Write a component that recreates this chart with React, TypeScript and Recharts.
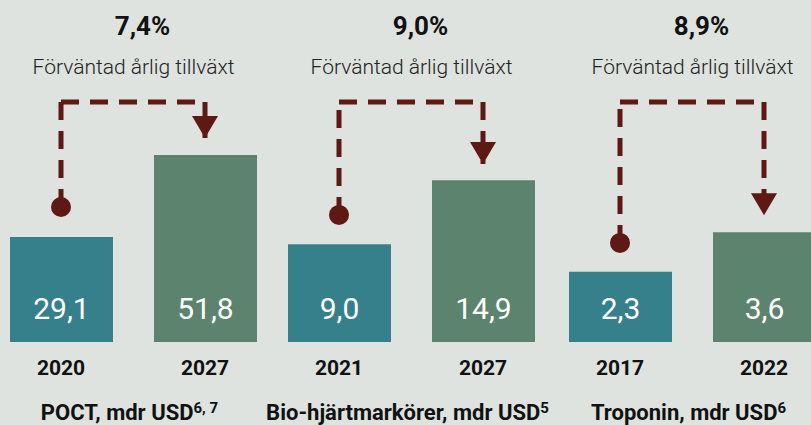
import { BarChart, Bar, XAxis, YAxis, Cell, LabelList, ReferenceLine, ReferenceDot } from "recharts";

// one entry per panel
const growthRates = ["7,4%", "9,0%", "8,9%"];
const panelTitles = ["POCT, mdr USD", "Bio-hjärtmarkörer, mdr USD", "Troponin, mdr USD"];
const footnotes = ["6, 7", "5", "6"];
const startYears = ["2020", "2021", "2017"];
const endYears = ["2027", "2027", "2022"];
const startValues = [29.1, 9.0, 2.3];
const endValues = [51.8, 14.9, 3.6];

// each panel has its own scale; top of axis = level of the dashed connector
const axisMax = [66.5, 22.1, 7.87];
const dotLevels = [37.4, 11.7, 3.25];
const arrowTips = [56.5, 16.4, 4.16];

const BG = "#dee3df";
const TEAL = "#35808a";
const GREEN = "#5b836d";
const MAROON = "#5e1914";
const FONT = "Roboto, 'Noto Sans', sans-serif";

const W = 811;
const H = 425;
const PANEL_W = 288;
const panelLeft = [-11.5, 266.5, 547.5];

const fmt = (v: number) => v.toFixed(1).replace(".", ",");

const ArrowHead = (props: any) => {
  const { cx, cy } = props;
  if (cx == null || cy == null) return null;
  return <polygon points={`${cx - 13},${cy - 22} ${cx + 13},${cy - 22} ${cx},${cy}`} fill={MAROON} />;
};

const Dot = (props: any) => {
  const { cx, cy } = props;
  if (cx == null || cy == null) return null;
  return <circle cx={cx} cy={cy} r={10} fill={MAROON} />;
};

function Panel({ i }: { i: number }) {
  const data = [
    { year: startYears[i], value: startValues[i] },
    { year: endYears[i], value: endValues[i] },
  ];
  const dash = { stroke: MAROON, strokeWidth: 5, strokeDasharray: "18 11" };
  return (
    <div style={{ position: "absolute", left: panelLeft[i], top: 0 }}>
      <BarChart width={PANEL_W} height={H} data={data} margin={{ top: 102, right: 0, bottom: 53, left: 0 }}>
        <XAxis
          dataKey="year"
          height={30}
          axisLine={false}
          tickLine={false}
          tickSize={6}
          tickMargin={12}
          tick={{ fill: "#111", fontSize: 21, fontWeight: 700, fontFamily: FONT }}
        />
        <YAxis hide domain={[0, axisMax[i]]} allowDataOverflow />
        <Bar dataKey="value" barSize={103} isAnimationActive={false}>
          <Cell fill={TEAL} />
          <Cell fill={GREEN} />
          <LabelList
            dataKey="value"
            position="insideBottom"
            offset={23}
            formatter={(v: any) => fmt(Number(v))}
            style={{ fill: "#fff", fontSize: 30, fontWeight: 400, fontFamily: FONT }}
          />
        </Bar>
        <ReferenceLine
          segment={[{ x: startYears[i], y: dotLevels[i] }, { x: startYears[i], y: axisMax[i] }]}
          {...dash}
        />
        <ReferenceLine
          segment={[{ x: startYears[i], y: axisMax[i] }, { x: endYears[i], y: axisMax[i] }]}
          {...dash}
        />
        <ReferenceLine
          segment={[{ x: endYears[i], y: axisMax[i] }, { x: endYears[i], y: arrowTips[i] }]}
          {...dash}
        />
        <ReferenceDot x={startYears[i]} y={dotLevels[i]} shape={<Dot />} />
        <ReferenceDot x={endYears[i]} y={arrowTips[i]} shape={<ArrowHead />} />
      </BarChart>
    </div>
  );
}

export default function App() {
  return (
    <div
      style={{
        position: "fixed",
        left: 0,
        top: 0,
        width: W,
        height: H,
        background: BG,
        overflow: "hidden",
        fontFamily: FONT,
      }}
    >
      {[0, 1, 2].map((i) => (
        <Panel key={i} i={i} />
      ))}
      <svg width={W} height={H} style={{ position: "absolute", left: 0, top: 0, pointerEvents: "none" }}>
        {[0, 1, 2].map((i) => {
          const cx = panelLeft[i] + PANEL_W / 2;
          return (
            <g key={i} fontFamily={FONT} textAnchor="middle">
              <text x={cx + 10} y={35} fontSize={26} fontWeight={700} fill="#111">
                {growthRates[i]}
              </text>
              <text x={cx + 1} y={74} fontSize={21} fontWeight={300} fill="#222">
                Förväntad årlig tillväxt
              </text>
              <text x={cx - 3} y={420} fontSize={22} fontWeight={700} fill="#111">
                {panelTitles[i]}
                <tspan fontSize={15} dy={-7}>
                  {footnotes[i]}
                </tspan>
              </text>
            </g>
          );
        })}
      </svg>
    </div>
  );
}
